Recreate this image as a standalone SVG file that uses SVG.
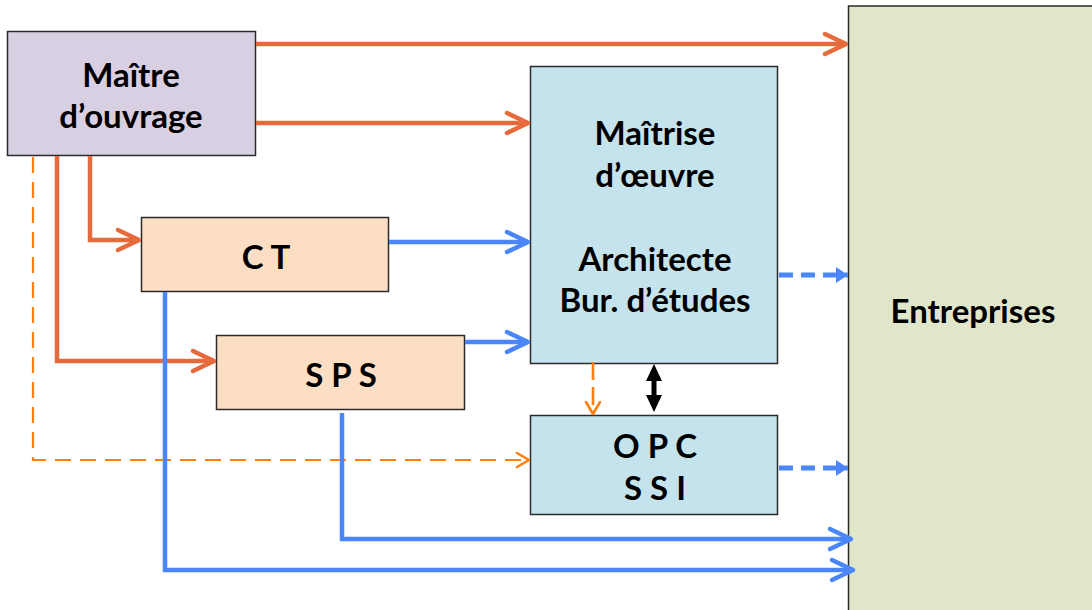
<svg xmlns="http://www.w3.org/2000/svg" width="1092" height="610" viewBox="0 0 1092 610">
  <style>
    .box { stroke: #2b2b2b; stroke-width: 1.5; }
    .label { font-family: Lato, "Liberation Sans", sans-serif; font-weight: bold; font-size: 33px; fill: #000; text-anchor: middle; }
    .org { fill: none; stroke: #E66B3C; stroke-width: 4.5; }
    .blu { fill: none; stroke: #4A86F8; stroke-width: 4.5; }
    .bludash { fill: none; stroke: #4A86F8; stroke-width: 5; stroke-dasharray: 14 8; }
    .orgdash { fill: none; stroke: #FF7F0F; stroke-width: 2.2; stroke-dasharray: 16 9; }
    .orgdash2 { fill: none; stroke: #FF7F0F; stroke-width: 2.6; stroke-dasharray: 18 7; }
  </style>
  <defs>
    <marker id="chevOrg" markerUnits="userSpaceOnUse" viewBox="-26 -14 30 28" refX="0" refY="0" markerWidth="30" markerHeight="28" orient="auto">
      <path d="M-21,-10 L0,0 L-21,10" fill="none" stroke="#E66B3C" stroke-width="4.5" stroke-linecap="round" stroke-linejoin="round"/>
    </marker>
    <marker id="chevBlu" markerUnits="userSpaceOnUse" viewBox="-26 -14 30 28" refX="0" refY="0" markerWidth="30" markerHeight="28" orient="auto">
      <path d="M-21,-10 L0,0 L-21,10" fill="none" stroke="#4A86F8" stroke-width="4.5" stroke-linecap="round" stroke-linejoin="round"/>
    </marker>
    <marker id="chevDash" markerUnits="userSpaceOnUse" viewBox="-18 -10 22 20" refX="0" refY="0" markerWidth="22" markerHeight="20" orient="auto">
      <path d="M-12,-7 L0,0 L-12,7" fill="none" stroke="#FF7F0F" stroke-width="2.6" stroke-linecap="round" stroke-linejoin="round"/>
    </marker>
    <marker id="triBlu" markerUnits="userSpaceOnUse" viewBox="-14 -10 16 20" refX="0" refY="0" markerWidth="16" markerHeight="20" orient="auto">
      <path d="M-12,-8 L0,0 L-12,8 Z" fill="#4A86F8"/>
    </marker>
  </defs>

  <rect width="1092" height="610" fill="#fff"/>

  <!-- Entreprises -->
  <g id="entreprises">
    <rect class="box" x="848.5" y="6" width="260" height="620" fill="#DFE6C9"/>
    <text class="label" x="973" y="323">Entreprises</text>
  </g>

  <!-- Maître d'ouvrage -->
  <g id="maitre-ouvrage">
    <rect class="box" x="7.5" y="31.5" width="248" height="124" fill="#D8CFE2"/>
    <text class="label" x="131" y="87">Maître</text>
    <text class="label" x="131" y="128">d’ouvrage</text>
  </g>

  <!-- Maîtrise d'œuvre -->
  <g id="maitrise-oeuvre">
    <rect class="box" x="530.5" y="66.5" width="247" height="297" fill="#C4E3EC"/>
    <text class="label" x="655" y="145">Maîtrise</text>
    <text class="label" x="655" y="187">d’œuvre</text>
    <text class="label" x="655" y="271">Architecte</text>
    <text class="label" x="655" y="312">Bur. d’études</text>
  </g>

  <!-- CT -->
  <g id="ct">
    <rect class="box" x="141.5" y="217.5" width="247" height="74" fill="#FBDEC3"/>
    <text class="label" x="266" y="269">C T</text>
  </g>

  <!-- SPS -->
  <g id="sps">
    <rect class="box" x="216.5" y="335.5" width="248" height="74" fill="#FBDEC3"/>
    <text class="label" x="341" y="387">S P S</text>
  </g>

  <!-- OPC / SSI -->
  <g id="opc-ssi">
    <rect class="box" x="530.5" y="415.5" width="247" height="99" fill="#C4E3EC"/>
    <text class="label" x="655" y="458">O P C</text>
    <text class="label" x="655" y="500">S S I</text>
  </g>

  <!-- Connectors -->
  <g id="connectors">
    <!-- from Maître d'ouvrage -->
    <path class="org" d="M256,44 H846" marker-end="url(#chevOrg)"/>
    <path class="org" d="M256,123 H528" marker-end="url(#chevOrg)"/>
    <path class="org" d="M90,156 V240 H139" marker-end="url(#chevOrg)"/>
    <path class="org" d="M57,156 V361 H214" marker-end="url(#chevOrg)"/>
    <path class="orgdash" d="M33,157 V460 H529" marker-end="url(#chevDash)"/>

    <!-- CT and SPS to Maîtrise d'œuvre -->
    <path class="blu" d="M389,242 H528" marker-end="url(#chevBlu)"/>
    <path class="blu" d="M465,342 H528" marker-end="url(#chevBlu)"/>

    <!-- CT and SPS to Entreprises -->
    <path class="blu" d="M165,292 V570 H853" marker-end="url(#chevBlu)"/>
    <path class="blu" d="M342,413 V539 H851" marker-end="url(#chevBlu)"/>

    <!-- dashed to Entreprises -->
    <path class="bludash" d="M779,275 H848" marker-end="url(#triBlu)"/>
    <path class="bludash" d="M779,468 H848" marker-end="url(#triBlu)"/>

    <!-- Maîtrise d'œuvre to OPC -->
    <path class="orgdash2" d="M593,362 V414" marker-end="url(#chevDash)"/>
    <g id="link-moe-opc">
      <path d="M654,378 V398" stroke="#000" stroke-width="5" fill="none"/>
      <path d="M646,381 L654,364 L662,381 Z" fill="#000"/>
      <path d="M646,395 L654,412 L662,395 Z" fill="#000"/>
    </g>
  </g>
</svg>
